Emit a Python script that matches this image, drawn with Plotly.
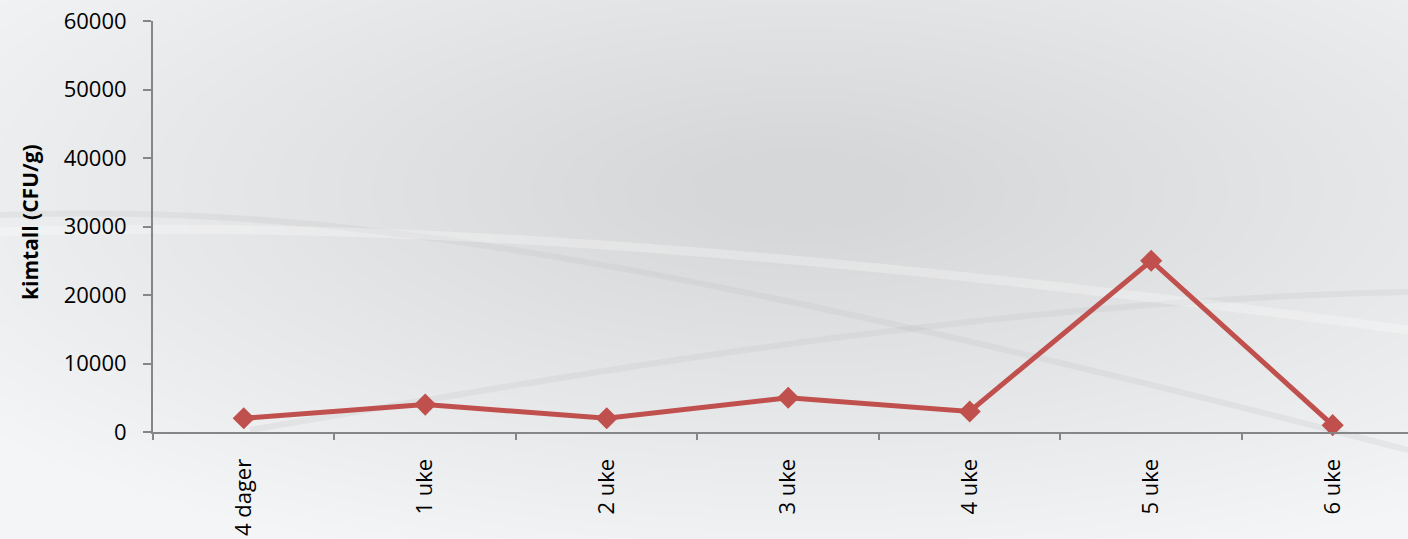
import plotly.graph_objects as go

categories = ["4 dager", "1 uke", "2 uke", "3 uke", "4 uke", "5 uke", "6 uke"]
values = [2000, 4000, 2000, 5000, 3000, 25000, 1000]
y_title = "kimtall (CFU/g)"

W, H = 1408, 539
ML, MR, MT, MB = 153, 0, 21, 107
PW, PH = W - ML - MR, H - MT - MB


def px(x):
    return (x - ML) / PW


def py(y):
    return 1 - (y - MT) / PH


def curve(pts):
    (x0, y0), (x1, y1), (x2, y2), (x3, y3) = pts
    return "M {} {} C {} {} {} {} {} {}".format(px(x0), py(y0), px(x1), py(y1),
                                                px(x2), py(y2), px(x3), py(y3))


fig = go.Figure()

# soft radial gray background (concentric translucent ellipses)
cx, cy = 800, 190
n = 30
for i in range(n):
    f = 1 - i / n
    rx, ry = 950 * f + 80, 360 * f + 30
    fig.add_shape(type="circle", xref="paper", yref="paper",
                  x0=px(cx - rx), x1=px(cx + rx), y0=py(cy + ry), y1=py(cy - ry),
                  fillcolor="rgba(168,175,186,0.017)", line_width=0, layer="below")

# faint swooshes
swooshes = [
    ([(0, 215), (300, 205), (600, 240), (1408, 450)], "rgba(185,190,198,0.22)", 6),
    ([(250, 430), (600, 370), (1000, 300), (1408, 292)], "rgba(185,190,198,0.22)", 6),
    ([(0, 232), (300, 222), (700, 235), (1408, 330)], "rgba(255,255,255,0.28)", 9),
]
for pts, col, w in swooshes:
    fig.add_shape(type="path", xref="paper", yref="paper", path=curve(pts),
                  line=dict(color=col, width=w), layer="below")

fig.add_trace(go.Scatter(
    x=categories, y=values, mode="lines+markers",
    line=dict(color="#C0504D", width=5),
    marker=dict(symbol="diamond", size=17, color="#C0504D"),
    showlegend=False, cliponaxis=False,
))

fig.update_layout(
    width=W, height=H,
    margin=dict(l=ML, r=MR, t=MT, b=MB, pad=0),
    paper_bgcolor="#f4f5f6", plot_bgcolor="rgba(0,0,0,0)",
    font=dict(family="Open Sans, Calibri, sans-serif", size=22, color="#000000"),
    xaxis=dict(
        type="category", range=[-0.5, 6.415], tickson="boundaries",
        ticks="outside", ticklen=6, tickcolor="#868686", tickwidth=1.5,
        showline=True, linecolor="#868686", linewidth=2,
        showgrid=False, tickangle=-90, zeroline=False,
        tickfont=dict(size=22), ticklabelstandoff=16,
    ),
    yaxis=dict(
        range=[0, 60000], dtick=10000, ticks="outside", ticklen=8,
        tickcolor="#868686", tickwidth=1.5, showline=True, linecolor="#868686",
        linewidth=2, showgrid=False, zeroline=False, tickfont=dict(size=22),
        tickformat="d", ticklabelstandoff=12, ticklabeloverflow="allow",
    ),
    annotations=[dict(
        text="<b>" + y_title + "</b>", xref="paper", yref="paper",
        x=px(30), y=py(222), xanchor="center", yanchor="middle",
        textangle=-90, showarrow=False, font=dict(size=21),
    )],
)

fig.write_html("out.html", config={"displayModeBar": False},
               post_script="document.body.style.margin='0';document.body.style.overflow='hidden';")
